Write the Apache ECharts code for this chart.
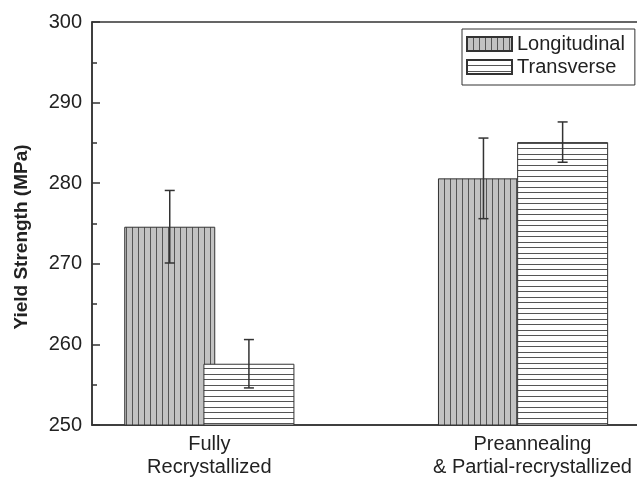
<!DOCTYPE html>
<html><head><meta charset="utf-8">
<script src="https://cdn.jsdelivr.net/npm/echarts@6/dist/echarts.min.js"></script>
<style>html,body{margin:0;padding:0;background:#fff}#c{width:637px;height:480px}</style>
</head><body><div id="c"></div>
<script>
// ---- data ----
const categories = ['Fully\nRecrystallized', 'Preannealing\n& Partial-recrystallized'];
const categoryX = [1, 2];
const labelX = [1, 2.03];
const seriesNames = ['Longitudinal', 'Transverse'];
const longitudinal = [274.6, 280.6];
const longitudinalErr = [4.5, 5.0];
const transverse = [257.6, 285.1];
const transverseErr = [3.0, 2.5];
const yTicks = [250, 260, 270, 280, 290, 300];

// ---- styles ----
const FONT = '"Liberation Sans", Arial, sans-serif';
const BAR_W = 91;
const BAR_GAP = -0.13;
const OFFSET = (BAR_W + BAR_W * BAR_GAP) / 2;

function makePattern(vertical) {
  const c = document.createElement('canvas');
  if (vertical) {
    c.width = 6; c.height = 6;
    const g = c.getContext('2d');
    g.fillStyle = '#c2c2c2'; g.fillRect(0, 0, 6, 6);
    g.fillStyle = '#555'; g.fillRect(0, 0, 1, 6);
  } else {
    c.width = 11; c.height = 11;
    const g = c.getContext('2d');
    g.fillStyle = '#ffffff'; g.fillRect(0, 0, 11, 11);
    g.fillStyle = '#555'; g.fillRect(0, 0, 11, 1); g.fillRect(0, 5, 11, 1);
  }
  return { image: c, repeat: 'repeat' };
}

function errSeries(id, vals, errs, sign) {
  return {
    type: 'custom', name: id, z: 10, silent: true,
    data: categoryX.map((x, i) => [x, vals[i] - errs[i], vals[i] + errs[i]]),
    encode: { x: 0, y: [1, 2] },
    renderItem: function (params, api) {
      const lo = api.coord([api.value(0), api.value(1)]);
      const hi = api.coord([api.value(0), api.value(2)]);
      const x = lo[0] + sign * OFFSET;
      const cap = 5;
      const st = { stroke: '#333', lineWidth: 1.5 };
      return { type: 'group', children: [
        { type: 'line', shape: { x1: x, y1: lo[1], x2: x, y2: hi[1] }, style: st },
        { type: 'line', shape: { x1: x - cap, y1: lo[1], x2: x + cap, y2: lo[1] }, style: st },
        { type: 'line', shape: { x1: x - cap, y1: hi[1], x2: x + cap, y2: hi[1] }, style: st }
      ]};
    }
  };
}

const chart = echarts.init(document.getElementById('c'), null, { renderer: 'canvas' });
chart.setOption({
  backgroundColor: '#fff',
  animation: false,
  textStyle: { fontFamily: FONT },
  grid: { left: 92, top: 22, right: -4, bottom: 55, show: true, borderColor: '#333', borderWidth: 1.5, containLabel: false, outerBoundsMode: 'none' },
  legend: {
    data: seriesNames, orient: 'vertical', left: 462, top: 29,
    itemWidth: 45, itemHeight: 14, itemGap: 3, icon: 'rect',
    padding: [5, 10, 8, 4], borderColor: '#333', borderWidth: 1,
    textStyle: { fontSize: 20, lineHeight: 20, color: '#222', fontFamily: FONT }
  },
  xAxis: {
    type: 'value', min: 0.626, max: 2.376,
    axisLine: { show: true, lineStyle: { color: '#333', width: 1.5 } },
    axisTick: { show: false }, splitLine: { show: false },
    axisLabel: {
      customValues: labelX,
      formatter: function (v) {
        let best = 0;
        labelX.forEach((lx, i) => { if (Math.abs(lx - v) < Math.abs(labelX[best] - v)) best = i; });
        return categories[best];
      },
      fontSize: 20, lineHeight: 23, color: '#222', margin: 8, fontFamily: FONT
    }
  },
  yAxis: {
    type: 'value', min: yTicks[0], max: yTicks[yTicks.length - 1], interval: yTicks[1] - yTicks[0],
    axisLine: { show: true, lineStyle: { color: '#333', width: 1.5 } },
    axisTick: { show: true, inside: true, length: 8, lineStyle: { color: '#333', width: 1.5 } },
    minorTick: { show: true, splitNumber: 2, length: 5, lineStyle: { color: '#333', width: 1.5 } },
    splitLine: { show: false },
    axisLabel: { fontSize: 20, color: '#222', margin: 10, fontFamily: FONT }
  },
  graphic: [{
    type: 'text', x: 22, y: 237, rotation: Math.PI / 2,
    style: { text: 'Yield Strength (MPa)', font: 'bold 19px ' + FONT, fill: '#222', align: 'center', verticalAlign: 'middle' }
  }],
  series: [
    { type: 'bar', name: seriesNames[0], barWidth: BAR_W, barGap: (BAR_GAP * 100) + '%',
      data: categoryX.map((x, i) => [x, longitudinal[i]]),
      itemStyle: { color: makePattern(true), borderColor: '#333', borderWidth: 1 } },
    { type: 'bar', name: seriesNames[1], barWidth: BAR_W, barGap: (BAR_GAP * 100) + '%',
      data: categoryX.map((x, i) => [x, transverse[i]]),
      itemStyle: { color: makePattern(false), borderColor: '#333', borderWidth: 1 } },
    errSeries('errL', longitudinal, longitudinalErr, -1),
    errSeries('errT', transverse, transverseErr, 1)
  ]
});
</script></body></html>
